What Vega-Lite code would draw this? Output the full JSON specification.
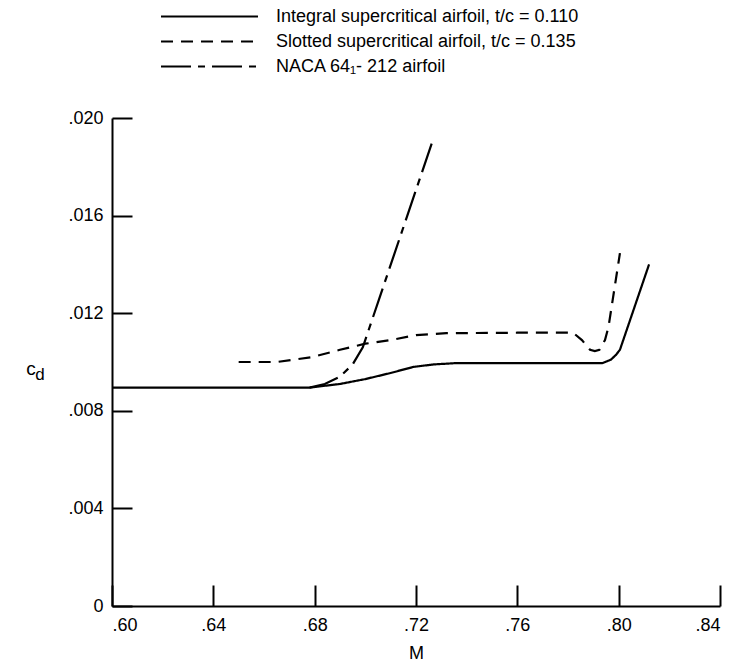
{
  "$schema": "https://vega.github.io/schema/vega-lite/v6.json",
  "width": 608,
  "height": 488,
  "autosize": "none",
  "padding": {"left": 112, "top": 118, "right": 15, "bottom": 58},
  "background": "white",
  "config": {
    "view": {"stroke": null},
    "font": "Liberation Sans",
    "axis": {
      "domainColor": "black",
      "domainWidth": 2,
      "tickColor": "black",
      "tickWidth": 2,
      "labelColor": "black",
      "labelFont": "Liberation Sans",
      "labelFontSize": 18,
      "titleColor": "black",
      "titleFont": "Liberation Sans",
      "titleFontSize": 18,
      "titleFontWeight": "normal",
      "grid": false
    }
  },
  "datasets": {
    "curves": [
      {"series": "Integral supercritical airfoil, t/c = 0.110", "M": 0.600, "cd": 0.00895},
      {"series": "Integral supercritical airfoil, t/c = 0.110", "M": 0.640, "cd": 0.00895},
      {"series": "Integral supercritical airfoil, t/c = 0.110", "M": 0.678, "cd": 0.00895},
      {"series": "Integral supercritical airfoil, t/c = 0.110", "M": 0.690, "cd": 0.0091},
      {"series": "Integral supercritical airfoil, t/c = 0.110", "M": 0.700, "cd": 0.0093},
      {"series": "Integral supercritical airfoil, t/c = 0.110", "M": 0.710, "cd": 0.00955},
      {"series": "Integral supercritical airfoil, t/c = 0.110", "M": 0.719, "cd": 0.0098},
      {"series": "Integral supercritical airfoil, t/c = 0.110", "M": 0.727, "cd": 0.0099},
      {"series": "Integral supercritical airfoil, t/c = 0.110", "M": 0.735, "cd": 0.00995},
      {"series": "Integral supercritical airfoil, t/c = 0.110", "M": 0.760, "cd": 0.00995},
      {"series": "Integral supercritical airfoil, t/c = 0.110", "M": 0.7935, "cd": 0.00995},
      {"series": "Integral supercritical airfoil, t/c = 0.110", "M": 0.797, "cd": 0.0101},
      {"series": "Integral supercritical airfoil, t/c = 0.110", "M": 0.799, "cd": 0.0103},
      {"series": "Integral supercritical airfoil, t/c = 0.110", "M": 0.8005, "cd": 0.0105},
      {"series": "Integral supercritical airfoil, t/c = 0.110", "M": 0.812, "cd": 0.0140},
      {"series": "Slotted supercritical airfoil, t/c = 0.135", "M": 0.650, "cd": 0.0100},
      {"series": "Slotted supercritical airfoil, t/c = 0.135", "M": 0.665, "cd": 0.0100},
      {"series": "Slotted supercritical airfoil, t/c = 0.135", "M": 0.679, "cd": 0.0102},
      {"series": "Slotted supercritical airfoil, t/c = 0.135", "M": 0.690, "cd": 0.0105},
      {"series": "Slotted supercritical airfoil, t/c = 0.135", "M": 0.700, "cd": 0.01075},
      {"series": "Slotted supercritical airfoil, t/c = 0.135", "M": 0.710, "cd": 0.0109},
      {"series": "Slotted supercritical airfoil, t/c = 0.135", "M": 0.720, "cd": 0.0111},
      {"series": "Slotted supercritical airfoil, t/c = 0.135", "M": 0.732, "cd": 0.01118},
      {"series": "Slotted supercritical airfoil, t/c = 0.135", "M": 0.760, "cd": 0.0112},
      {"series": "Slotted supercritical airfoil, t/c = 0.135", "M": 0.782, "cd": 0.0112},
      {"series": "Slotted supercritical airfoil, t/c = 0.135", "M": 0.7855, "cd": 0.0109},
      {"series": "Slotted supercritical airfoil, t/c = 0.135", "M": 0.7887, "cd": 0.0105},
      {"series": "Slotted supercritical airfoil, t/c = 0.135", "M": 0.7906, "cd": 0.01045},
      {"series": "Slotted supercritical airfoil, t/c = 0.135", "M": 0.7924, "cd": 0.0105},
      {"series": "Slotted supercritical airfoil, t/c = 0.135", "M": 0.7946, "cd": 0.0109},
      {"series": "Slotted supercritical airfoil, t/c = 0.135", "M": 0.796, "cd": 0.01145},
      {"series": "Slotted supercritical airfoil, t/c = 0.135", "M": 0.8005, "cd": 0.01446},
      {"series": "NACA 64₁- 212 airfoil", "M": 0.678, "cd": 0.00895},
      {"series": "NACA 64₁- 212 airfoil", "M": 0.684, "cd": 0.0091},
      {"series": "NACA 64₁- 212 airfoil", "M": 0.690, "cd": 0.0094},
      {"series": "NACA 64₁- 212 airfoil", "M": 0.695, "cd": 0.0099},
      {"series": "NACA 64₁- 212 airfoil", "M": 0.699, "cd": 0.0106},
      {"series": "NACA 64₁- 212 airfoil", "M": 0.7055, "cd": 0.0126},
      {"series": "NACA 64₁- 212 airfoil", "M": 0.727, "cd": 0.0192}
    ],
    "ylabel": [
      {"M": 0.568, "cd": 0.00971, "t": "c"}
    ],
    "ysub": [
      {"M": 0.5716, "cd": 0.00947, "t": "d"}
    ]
  },
  "layer": [
    {
      "data": {"name": "curves"},
      "mark": {"type": "line", "color": "black", "strokeWidth": 2.2, "clip": false},
      "encoding": {
        "x": {
          "field": "M",
          "type": "quantitative",
          "scale": {"domain": [0.6, 0.84], "nice": false, "zero": false},
          "axis": {
            "values": [0.6, 0.64, 0.68, 0.72, 0.76, 0.8, 0.84],
            "labelExpr": "replace(format(datum.value, '.2f'), '0.', '.')",
            "tickSize": -21,
            "labelPadding": 31,
            "title": "M",
            "titlePadding": 10
          }
        },
        "y": {
          "field": "cd",
          "type": "quantitative",
          "scale": {"domain": [0, 0.02], "nice": false},
          "axis": {
            "values": [0, 0.004, 0.008, 0.012, 0.016, 0.02],
            "labelExpr": "datum.value == 0 ? '0' : replace(format(datum.value, '.3f'), '0.', '.')",
            "tickSize": -20,
            "labelPadding": 29,
            "title": null
          }
        },
        "strokeDash": {
          "field": "series",
          "type": "nominal",
          "scale": {
            "domain": ["Integral supercritical airfoil, t/c = 0.110", "Slotted supercritical airfoil, t/c = 0.135", "NACA 64₁- 212 airfoil"],
            "range": [[1, 0], [12, 8], [30, 7, 7, 7]]
          },
          "legend": {
            "orient": "none",
            "legendX": 48,
            "legendY": -110,
            "title": null,
            "symbolType": "stroke",
            "symbolSize": 9400,
            "symbolStrokeWidth": 2,
            "symbolStrokeColor": "black",
            "labelFont": "Liberation Sans",
            "labelFontSize": 18,
            "labelColor": "black",
            "labelLimit": 500,
            "labelOffset": 17,
            "clipHeight": 17,
            "rowPadding": 6
          }
        }
      }
    },
    {
      "data": {"name": "ylabel"},
      "mark": {"type": "text", "fontSize": 19, "color": "black", "font": "Liberation Sans", "clip": false},
      "encoding": {
        "x": {"field": "M", "type": "quantitative"},
        "y": {"field": "cd", "type": "quantitative"},
        "text": {"field": "t"}
      }
    },
    {
      "data": {"name": "ysub"},
      "mark": {"type": "text", "fontSize": 17, "color": "black", "font": "Liberation Sans", "clip": false},
      "encoding": {
        "x": {"field": "M", "type": "quantitative"},
        "y": {"field": "cd", "type": "quantitative"},
        "text": {"field": "t"}
      }
    }
  ]
}
